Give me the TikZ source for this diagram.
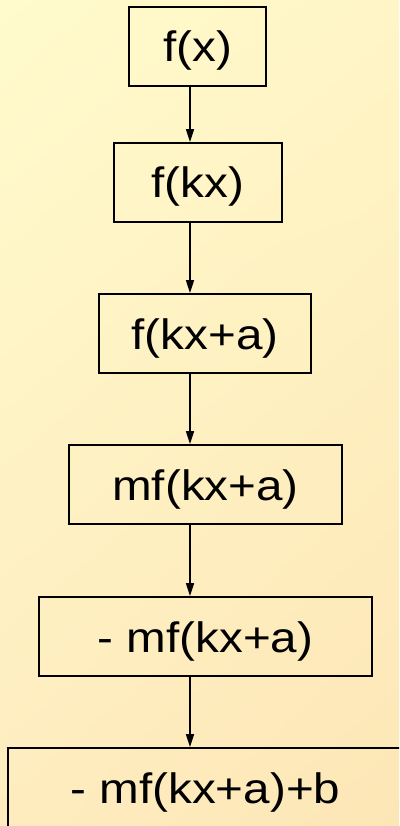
\documentclass[tikz,border=0pt]{standalone}
\usepackage{fontspec}
\setmainfont{Liberation Sans}[FakeStretch=1.12]
\usetikzlibrary{arrows.meta,shadings}

\definecolor{bgtopl}{HTML}{FFFBCC}
\definecolor{bgtopr}{HTML}{FFF5C6}
\definecolor{bgbotl}{HTML}{FEECBF}
\definecolor{bgbotr}{HTML}{FDE6B6}

\begin{document}
\begin{tikzpicture}[x=1pt,y=-1pt,
	stepbox/.style={draw=black, line width=1.8pt, minimum height=79pt, inner sep=0pt,
		text height=40pt, text depth=9pt, font=\fontsize{42.5}{50}\selectfont},
	flow/.style={line width=1.4pt, -{Triangle[length=13pt,width=8pt]}}]

% background
\useasboundingbox (0,0) rectangle (399,826);
\clip (0,0) rectangle (399,826);
\shade[upper left=bgtopl, upper right=bgtopr, lower left=bgbotl, lower right=bgbotr] (0,0) rectangle (399,826);

% boxes
\node[stepbox, minimum width=137pt] (fx)   at (197.5,46.5)  {f(x)};
\node[stepbox, minimum width=168pt] (fkx)  at (198,182.5)   {f(kx)};
\node[stepbox, minimum width=212pt] (fkxa) at (205,333.5)   {f(kx+a)};
\node[stepbox, minimum width=273pt] (mfk)  at (205.5,484.5) {mf(kx+a)};
\node[stepbox, minimum width=333pt] (nmf)  at (205.5,636.5) {- mf(kx+a)};
\node[stepbox, minimum width=395pt] (nmfb) at (205.5,787.5) {- mf(kx+a)+b};

% arrows
\coordinate (spine) at (190,0);
\draw[flow] (fx.south -| spine)   -- (fkx.north -| spine);
\draw[flow] (fkx.south -| spine)  -- (fkxa.north -| spine);
\draw[flow] (fkxa.south -| spine) -- (mfk.north -| spine);
\draw[flow] (mfk.south -| spine)  -- (nmf.north -| spine);
\draw[flow] (nmf.south -| spine)  -- (nmfb.north -| spine);

\end{tikzpicture}
\end{document}
